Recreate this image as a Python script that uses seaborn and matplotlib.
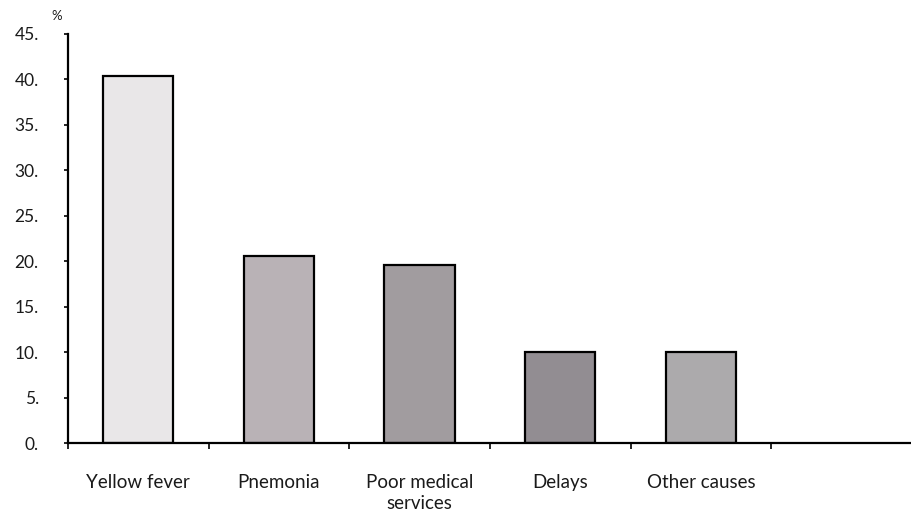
import matplotlib
matplotlib.use("Agg")
import matplotlib.pyplot as plt
import seaborn as sns
import pandas as pd

categories = ["Yellow fever", "Pnemonia", "Poor medical\nservices", "Delays", "Other causes"]
values = [40.4, 20.6, 19.6, 10.0, 10.0]
bar_colors = ["#e9e7e8", "#b9b2b6", "#a19c9f", "#928d92", "#acaaac"]
y_ticks = [0, 5, 10, 15, 20, 25, 30, 35, 40, 45]
y_tick_labels = ["0.", "5.", "10.", "15.", "20.", "25.", "30.", "35.", "40.", "45."]

sns.set_theme(style="white")
plt.rcParams["font.family"] = ["Lato", "DejaVu Sans"]

df = pd.DataFrame({"cause": categories, "pct": values})

fig = plt.figure(figsize=(9.12, 5.14), dpi=100)
ax = fig.add_axes([68 / 912, 1 - 443 / 514, 1 - 68 / 912, (443 - 34) / 514])

sns.barplot(data=df, x="cause", y="pct", hue="cause", palette=bar_colors,
            order=categories, legend=False, width=0.5,
            edgecolor="black", linewidth=1.6, ax=ax, saturation=1)

ax.set_xlim(-0.5, 5.5)
ax.set_ylim(0, 45)
ax.set_xlabel("")
ax.set_ylabel("")

for s in ["top", "right"]:
    ax.spines[s].set_visible(False)
for s in ["left", "bottom"]:
    ax.spines[s].set_color("black")
    ax.spines[s].set_linewidth(1.6)
ax.spines["bottom"].set_zorder(5)

ax.set_yticks(y_ticks)
ax.set_yticklabels(y_tick_labels, fontsize=12.5, color="#1a1a1a")
ax.tick_params(axis="y", direction="out", length=3, width=1.2, color="black",
               left=True, pad=18)

ax.set_xticks(range(len(categories)))
ax.set_xticklabels(categories, fontsize=13.5, color="#1a1a1a", linespacing=1.35)
ax.tick_params(axis="x", which="major", length=0, pad=22)
ax.set_xticks([i - 0.5 for i in range(6)], minor=True)
ax.tick_params(axis="x", which="minor", direction="out", length=4, width=1.2,
               color="black", bottom=True)

fig.text(51 / 912, 1 - 16 / 514, "%", fontsize=9.5, color="#1a1a1a", ha="left", va="center")

fig.savefig("out.png", dpi=100)
